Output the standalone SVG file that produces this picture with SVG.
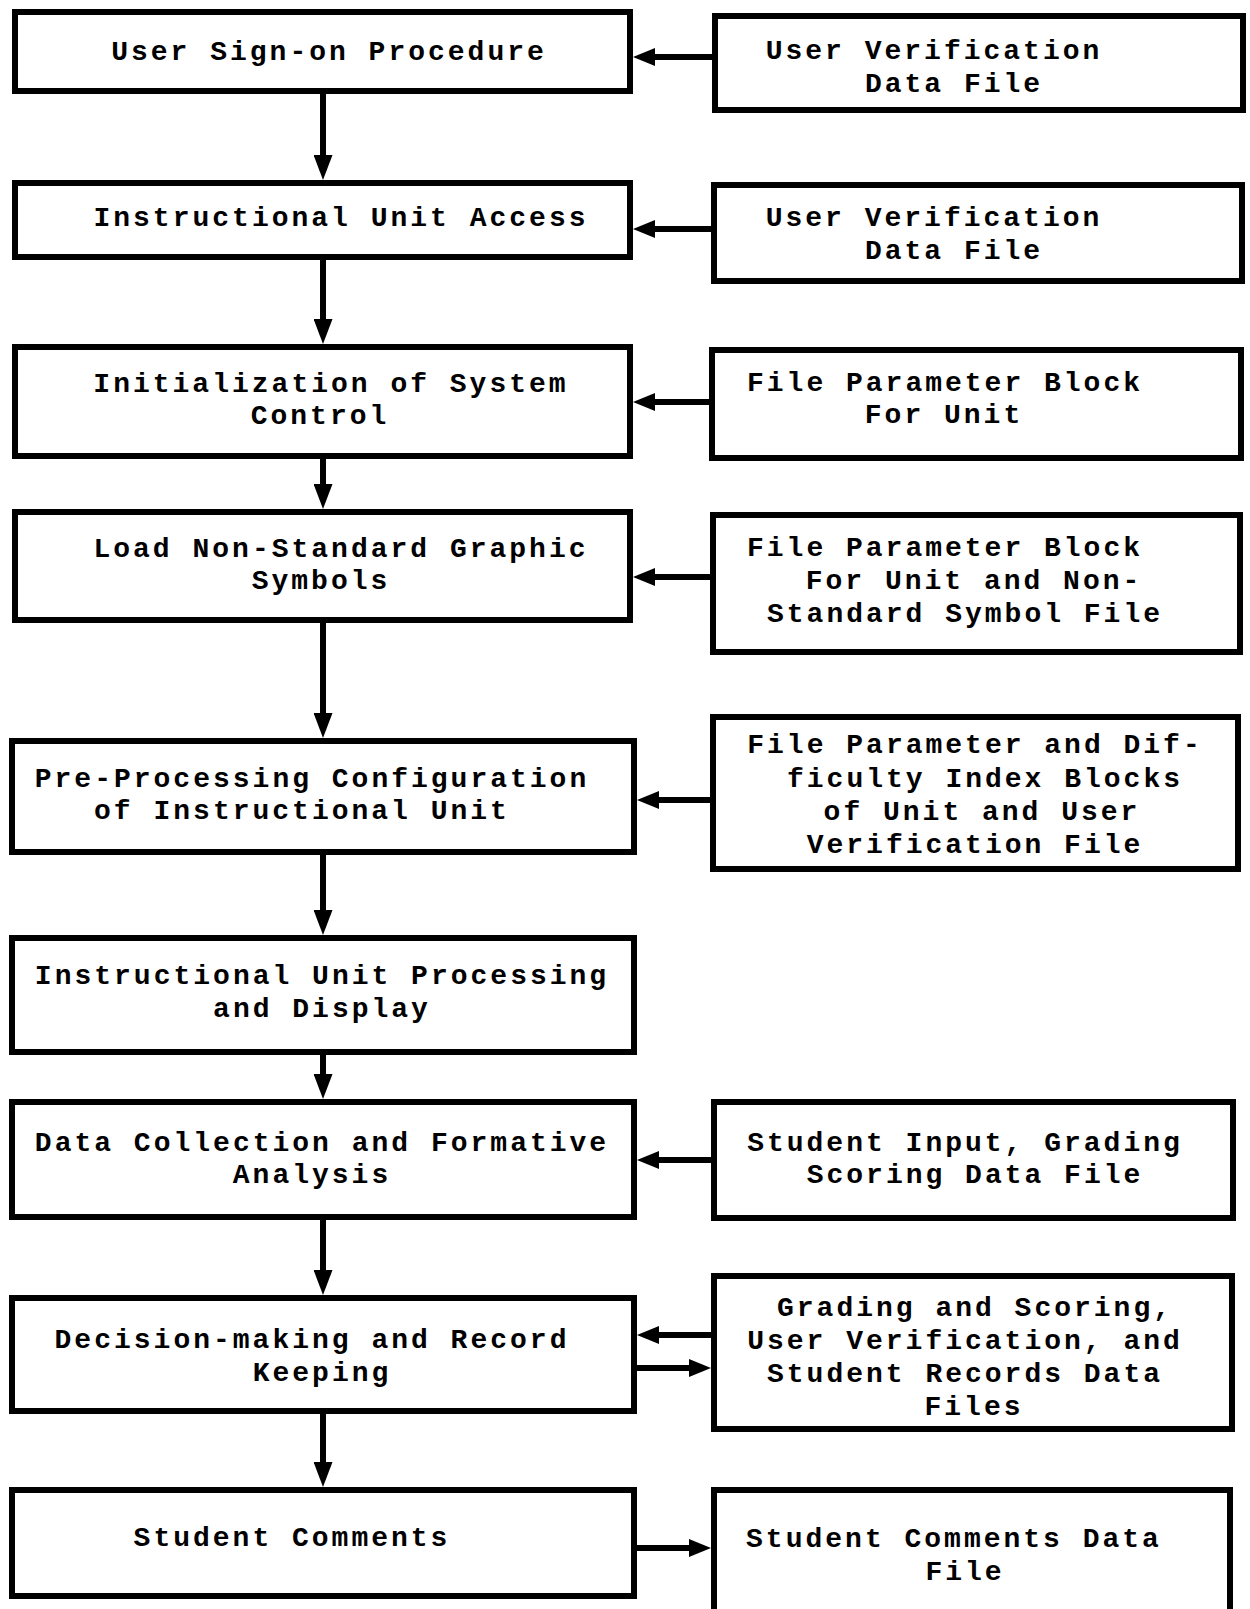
<svg xmlns="http://www.w3.org/2000/svg" width="1250" height="1609" viewBox="0 0 1250 1609">
<style>
.box{fill:#fff;stroke:#000;stroke-width:6;stroke-linejoin:miter}
.t{font-family:"Liberation Mono","DejaVu Sans Mono",monospace;font-weight:bold;font-size:28px;letter-spacing:3px;fill:#000;text-anchor:middle}
.c{stroke:#000;stroke-width:6;fill:none}
.v{marker-end:url(#ahv)}
.h{marker-end:url(#ah)}
</style>
<defs>
<marker id="ahv" viewBox="0 0 25 19" refX="12" refY="9.5" markerWidth="25" markerHeight="19" markerUnits="userSpaceOnUse" orient="auto"><path d="M0,0 L25,9.5 L0,19 z" fill="#000"/></marker>
<marker id="ah" viewBox="0 0 22 18" refX="10" refY="9" markerWidth="22" markerHeight="18" markerUnits="userSpaceOnUse" orient="auto"><path d="M0,0 L22,9 L0,18 z" fill="#000"/></marker>
</defs>
<rect width="1250" height="1609" fill="#fff"/>

<g id="L1"><rect class="box" x="15" y="12" width="615" height="79"/><text class="t" x="329" y="60">User Sign-on Procedure</text></g>
<g id="L2"><rect class="box" x="15" y="183" width="615" height="74"/><text class="t" x="341" y="226">Instructional Unit Access</text></g>
<g id="L3"><rect class="box" x="15" y="347" width="615" height="109"/><text class="t" x="331" y="392">Initialization of System</text><text class="t" x="320" y="424">Control</text></g>
<g id="L4"><rect class="box" x="15" y="512" width="615" height="108"/><text class="t" x="341" y="557">Load Non-Standard Graphic</text><text class="t" x="321" y="589">Symbols</text></g>
<g id="L5"><rect class="box" x="12" y="741" width="622" height="111"/><text class="t" x="312" y="787">Pre-Processing Configuration</text><text class="t" x="302" y="819">of Instructional Unit</text></g>
<g id="L6"><rect class="box" x="12" y="938" width="622" height="114"/><text class="t" x="322" y="984">Instructional Unit Processing</text><text class="t" x="322" y="1017">and Display</text></g>
<g id="L7"><rect class="box" x="12" y="1102" width="622" height="115"/><text class="t" x="322" y="1151">Data Collection and Formative</text><text class="t" x="312" y="1183">Analysis</text></g>
<g id="L8"><rect class="box" x="12" y="1298" width="622" height="113"/><text class="t" x="312" y="1348">Decision-making and Record</text><text class="t" x="322" y="1381">Keeping</text></g>
<g id="L9"><rect class="box" x="12" y="1490" width="622" height="106"/><text class="t" x="292" y="1546">Student Comments</text></g>

<g id="R1"><rect class="box" x="715" y="16" width="528" height="94"/><text class="t" x="934" y="59">User Verification</text><text class="t" x="954" y="92">Data File</text></g>
<g id="R2"><rect class="box" x="714" y="185" width="528" height="96"/><text class="t" x="934" y="226">User Verification</text><text class="t" x="954" y="259">Data File</text></g>
<g id="R3"><rect class="box" x="712" y="350" width="529" height="108"/><text class="t" x="945" y="391">File Parameter Block</text><text class="t" x="944" y="423">For Unit</text></g>
<g id="R4"><rect class="box" x="713" y="515" width="527" height="137"/><text class="t" x="945" y="556">File Parameter Block</text><text class="t" x="974" y="589">For Unit and Non-</text><text class="t" x="965" y="622">Standard Symbol File</text></g>
<g id="R5"><rect class="box" x="713" y="717" width="525" height="152"/><text class="t" x="975" y="753">File Parameter and Dif-</text><text class="t" x="985" y="787">ficulty Index Blocks</text><text class="t" x="982" y="820">of Unit and User</text><text class="t" x="975" y="853">Verification File</text></g>
<g id="R6"><rect class="box" x="714" y="1102" width="519" height="116"/><text class="t" x="965" y="1151">Student Input, Grading</text><text class="t" x="975" y="1183">Scoring Data File</text></g>
<g id="R7"><rect class="box" x="714" y="1276" width="518" height="153"/><text class="t" x="975" y="1316">Grading and Scoring,</text><text class="t" x="965" y="1349">User Verification, and</text><text class="t" x="965" y="1382">Student Records Data</text><text class="t" x="974" y="1415">Files</text></g>
<g id="R8"><rect class="box" x="714" y="1490" width="516" height="130"/><text class="t" x="954" y="1547">Student Comments Data</text><text class="t" x="965" y="1580">File</text></g>

<g id="connectors">
<line class="c v" x1="323" y1="94" x2="323" y2="167"/>
<line class="c v" x1="323" y1="260" x2="323" y2="331"/>
<line class="c v" x1="323" y1="459" x2="323" y2="496"/>
<line class="c v" x1="323" y1="623" x2="323" y2="725"/>
<line class="c v" x1="323" y1="855" x2="323" y2="922"/>
<line class="c v" x1="323" y1="1055" x2="323" y2="1086"/>
<line class="c v" x1="323" y1="1220" x2="323" y2="1282"/>
<line class="c v" x1="323" y1="1414" x2="323" y2="1474"/>
<line class="c h" x1="712" y1="57" x2="645" y2="57"/>
<line class="c h" x1="711" y1="229" x2="645" y2="229"/>
<line class="c h" x1="709" y1="402" x2="645" y2="402"/>
<line class="c h" x1="710" y1="577" x2="645" y2="577"/>
<line class="c h" x1="710" y1="800" x2="649" y2="800"/>
<line class="c h" x1="711" y1="1160" x2="649" y2="1160"/>
<line class="c h" x1="711" y1="1335" x2="649" y2="1335"/>
<line class="c h" x1="637" y1="1368" x2="699" y2="1368"/>
<line class="c h" x1="637" y1="1548" x2="699" y2="1548"/>
</g>
</svg>
